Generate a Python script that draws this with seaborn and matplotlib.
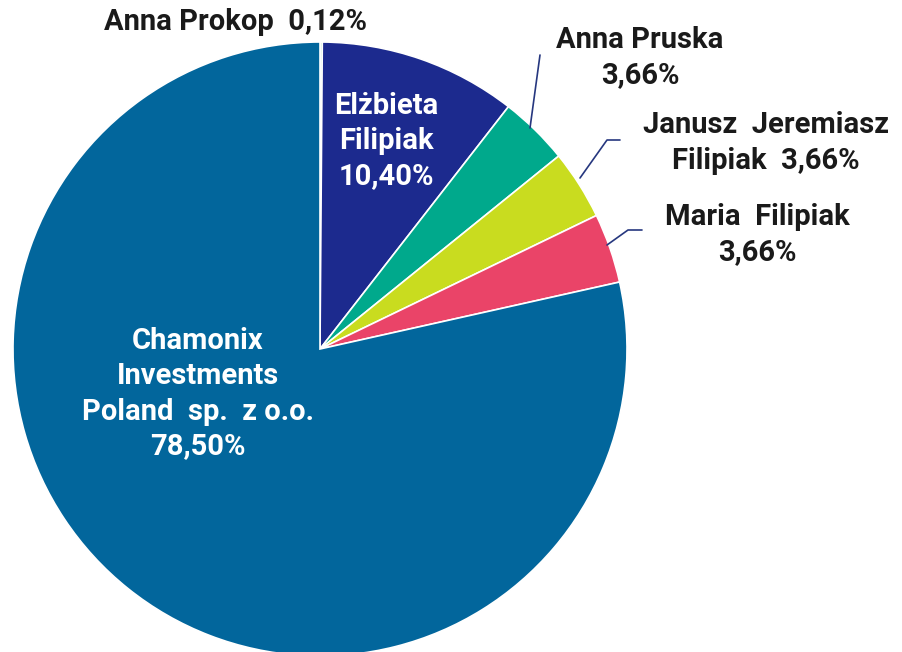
import matplotlib
matplotlib.use("Agg")
import matplotlib.pyplot as plt
import seaborn as sns

sns.set_theme(style="white")
plt.rcParams["font.family"] = ["Roboto", "DejaVu Sans"]

holders = ["Anna Prokop", "Elżbieta Filipiak", "Anna Pruska",
           "Janusz Jeremiasz Filipiak", "Maria Filipiak",
           "Chamonix Investments Poland sp. z o.o."]
shares = [0.12, 10.40, 3.66, 3.66, 3.66, 78.50]
colors = ["#7fd0a8", "#1c2a8e", "#00a98c", "#c9dc1f", "#ea4468", "#02669c"]

R = 307.0  # pie radius in px
cx, cy = 320.0, 349.0  # centre in px (from top-left)
W, H = 903, 652

fig = plt.figure(figsize=(W / 100, H / 100), dpi=100)
ax = fig.add_axes([0, 0, 1, 1])
ax.pie(shares, colors=colors, startangle=90, counterclock=False, radius=1.0,
       wedgeprops=dict(edgecolor="white", linewidth=1.2))
ax.set_xlim(-cx / R, (W - cx) / R)
ax.set_ylim(-(H - cy) / R, cy / R)
ax.set_aspect("equal")
ax.axis("off")


def px(x, y):
    # pixel position -> data coords
    return (x - cx) / R, (cy - y) / R


dark = "#1a1a1a"
fs = 21
kw = dict(ha="center", va="center", fontsize=fs, fontweight="bold",
          linespacing=1.32)

ax.text(*px(235, 22), "Anna Prokop  0,12%", color=dark, **kw)
ax.text(*px(386, 141), "Elżbieta\nFilipiak\n10,40%", color="white", **kw)
ax.text(*px(640, 58), "Anna Pruska\n3,66%", color=dark, **kw)
ax.text(*px(766, 143), "Janusz  Jeremiasz\nFilipiak  3,66%", color=dark, **kw)
ax.text(*px(757, 235), "Maria  Filipiak\n3,66%", color=dark, **kw)
ax.text(*px(198, 394), "Chamonix\nInvestments\nPoland  sp.  z o.o.\n78,50%",
        color="white", **kw)

# leader lines
line_c = "#26377f"
for pts in [[(530, 128), (540, 55)],
            [(580, 178), (607, 140), (620, 140)],
            [(607, 245), (628, 230), (642, 230)]]:
    xs, ys = zip(*[px(x, y) for x, y in pts])
    ax.plot(xs, ys, color=line_c, lw=1.2)

fig.savefig("out.png", dpi=100)
